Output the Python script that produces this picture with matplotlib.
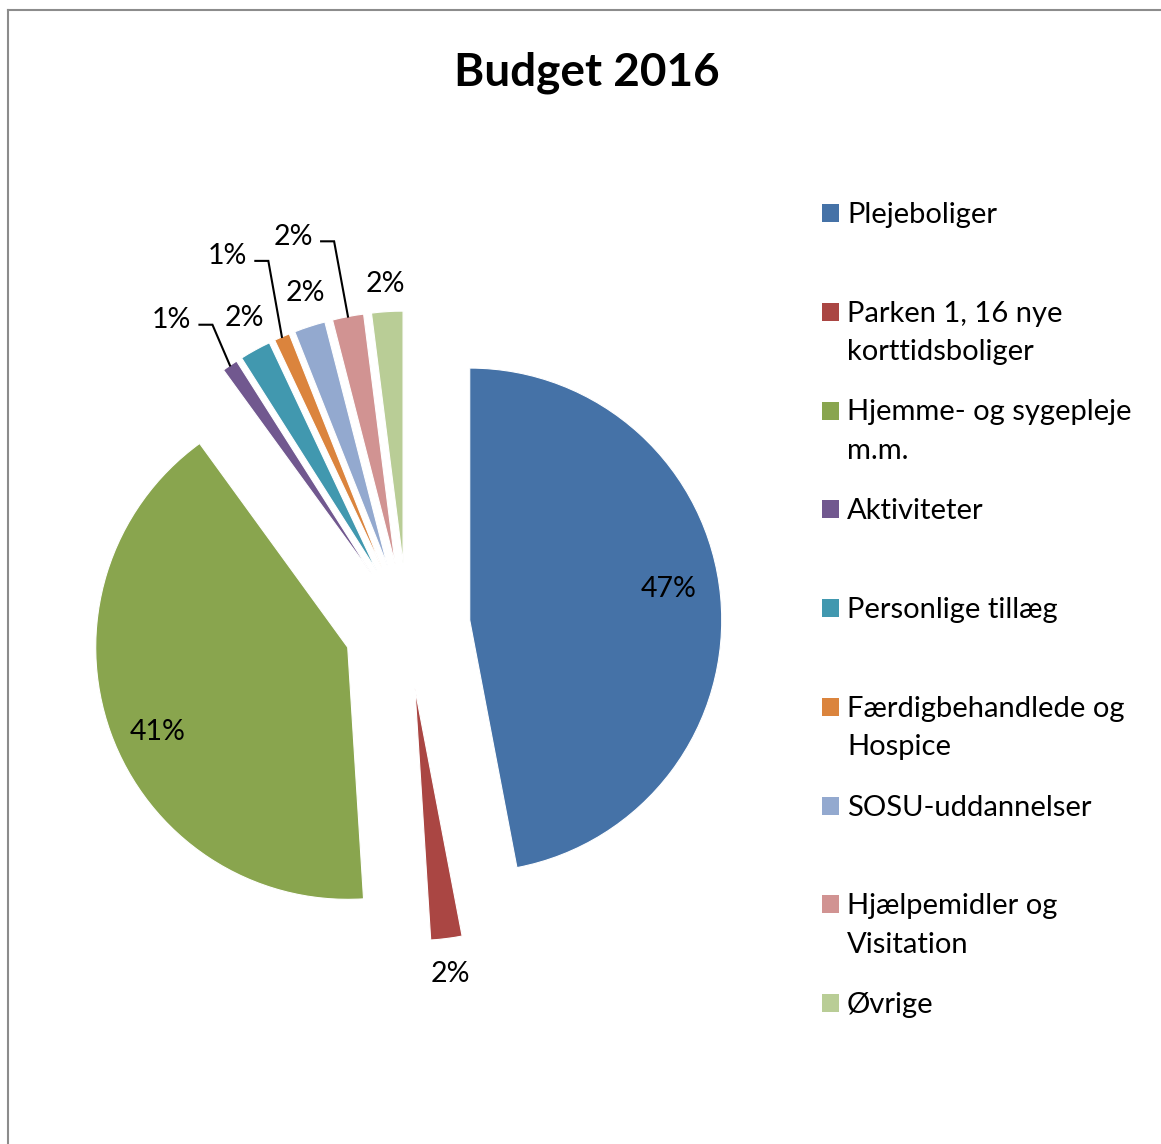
"""Exploded pie: Budget 2016 distribution with manual Excel-style legend."""
import numpy as np
import matplotlib.pyplot as plt
from matplotlib.lines import Line2D
from matplotlib.patches import Rectangle

plt.rcParams['font.family'] = ['Lato', 'DejaVu Sans']

categories = ["Plejeboliger",
              "Parken 1, 16 nye\nkorttidsboliger",
              "Hjemme- og sygepleje\nm.m.",
              "Aktiviteter",
              "Personlige tillæg",
              "Færdigbehandlede og\nHospice",
              "SOSU-uddannelser",
              "Hjælpemidler og\nVisitation",
              "Øvrige"]
shares = [47, 2, 41, 1, 2, 1, 2, 2, 2]
colors = ["#4572A7", "#AA4643", "#89A54E", "#71588F", "#4198AF",
          "#DB843D", "#93A9CF", "#D19392", "#B9CD96"]

# label placement relative to each exploded wedge (radius in pie radii, angle shift deg)
lab_r = [0.80, 1.13, 0.82, 1.29, 1.14, 1.39, 1.14, 1.37, 1.12]
lab_da = [4.1, 0.0, 3.6, 3.8, -1.4, 2.8, -1.3, 6.4, 0.0]
leader = [False, False, False, True, False, True, False, True, False]

W, H = 1161, 1144
R = 252            # pie radius in pixels
cx, cy = 407, 626  # pie centre in pixels (from top-left)

fig = plt.figure(figsize=(W / 100, H / 100), dpi=100)
ax = fig.add_axes([0, 0, 1, 1])

wedges, _ = ax.pie(shares, colors=colors, startangle=90, counterclock=False,
                   explode=[0.25] * len(shares),
                   wedgeprops=dict(edgecolor="white", linewidth=0.8))
ax.set_xlim(-cx / R, (W - cx) / R)
ax.set_ylim(-(H - cy) / R, cy / R)
ax.set_aspect("equal")
ax.axis("off")

for i, w in enumerate(wedges):
    mid = 0.5 * (w.theta1 + w.theta2)
    x0, y0 = w.center
    ang = np.radians(mid + lab_da[i])
    lx = x0 + lab_r[i] * np.cos(ang)
    ly = y0 + lab_r[i] * np.sin(ang)
    ax.text(lx, ly, f"{shares[i]}%", ha="center", va="center_baseline",
            fontsize=20.5, color="black")
    if leader[i]:
        ex = x0 + np.cos(np.radians(mid))
        ey = y0 + np.sin(np.radians(mid))
        ys = ly - 7 / R
        ax.plot([lx + 28 / R, lx + 41 / R, ex], [ys, ys, ey],
                color="black", lw=1.5, solid_joinstyle="miter")

# title
fig.text(587 / W, 1 - 85 / H, "Budget 2016", ha="center", va="baseline",
         fontsize=33, fontweight="bold")

# legend, evenly spaced like Excel (square aligned with first line)
for i, (lab, col) in enumerate(zip(categories, colors)):
    base = 223 + 98.75 * i
    fig.add_artist(Rectangle((822 / W, 1 - (base - 1) / H), 17 / W, 18 / H,
                             transform=fig.transFigure, facecolor=col,
                             edgecolor="none"))
    for k, line in enumerate(lab.split("\n")):
        fig.text(847 / W, 1 - (base + 38.5 * k) / H, line, ha="left",
                 va="baseline", fontsize=21)

# chart frame (left and top edges visible)
frame_col = "#8c8c8c"
fig.add_artist(Line2D([8 / W, 8 / W], [0, 1 - 10 / H], transform=fig.transFigure,
                      color=frame_col, lw=1.5))
fig.add_artist(Line2D([8 / W, 1], [1 - 10 / H, 1 - 10 / H], transform=fig.transFigure,
                      color=frame_col, lw=1.5))

fig.savefig("out.png", dpi=100)
